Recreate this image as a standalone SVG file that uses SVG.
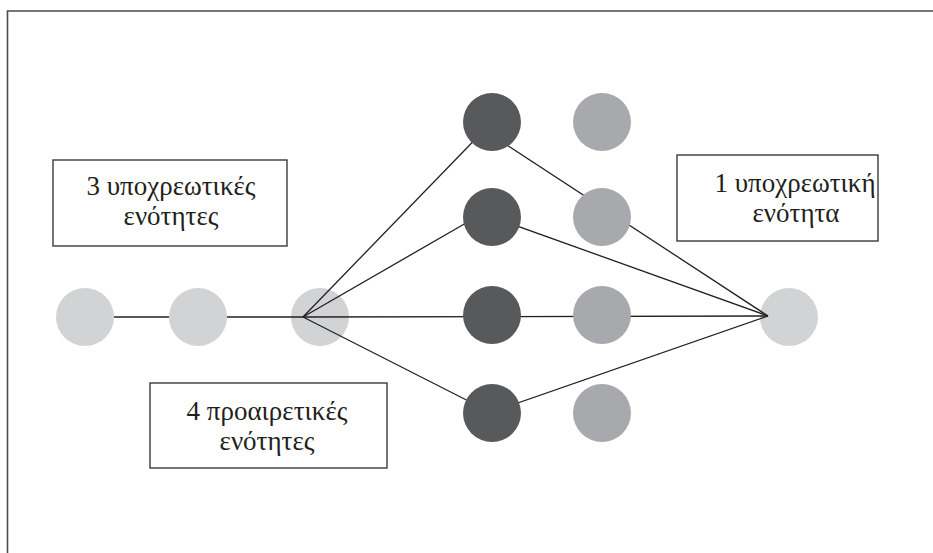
<svg xmlns="http://www.w3.org/2000/svg" width="933" height="553" viewBox="0 0 933 553">
<style>
.frame{fill:none;stroke:#4a4a4a;stroke-width:1.6}
.box{fill:#fff;stroke:#3a3a3a;stroke-width:1.4}
.lbl{font-family:'Liberation Serif','DejaVu Serif',serif;font-size:27px;fill:#231f20;text-anchor:middle}
.light{fill:#d1d3d4}
.mid{fill:#a7a9ac}
.dark{fill:#58595b}
.conn line{stroke:#231f20;stroke-width:1.3}
</style>
<rect width="933" height="553" fill="#fff"/>
<path class="frame" d="M7.5,560 V11 H940"/>
<g id="box-mandatory3">
<rect class="box" x="53" y="160" width="234" height="86"/>
<text class="lbl" font-family="Liberation Serif, DejaVu Serif, serif" x="171" y="195">3 υποχρεωτικές</text>
<text class="lbl" font-family="Liberation Serif, DejaVu Serif, serif" x="171" y="225">ενότητες</text>
</g>
<g id="box-mandatory1">
<rect class="box" x="677" y="155" width="201" height="86"/>
<text class="lbl" font-family="Liberation Serif, DejaVu Serif, serif" x="795" y="191.5">1 υποχρεωτική</text>
<text class="lbl" font-family="Liberation Serif, DejaVu Serif, serif" x="796" y="221.5">ενότητα</text>
</g>
<g id="box-optional4">
<rect class="box" x="150" y="383" width="237" height="85"/>
<text class="lbl" font-family="Liberation Serif, DejaVu Serif, serif" x="267" y="419.5">4 προαιρετικές</text>
<text class="lbl" font-family="Liberation Serif, DejaVu Serif, serif" x="267" y="449.5">ενότητες</text>
</g>
<g id="m1"><circle class="light" cx="85" cy="317" r="29"/></g>
<g id="m2"><circle class="light" cx="198" cy="317" r="29"/></g>
<g id="m3"><circle class="light" cx="320" cy="317" r="29"/></g>
<g id="final"><circle class="light" cx="789" cy="317" r="29"/></g>
<g id="connectors" class="conn">
<line x1="114" y1="317" x2="169" y2="317"/>
<line x1="227" y1="317" x2="303" y2="317"/>
<line x1="303" y1="317" x2="492" y2="122"/>
<line x1="303" y1="317" x2="466" y2="223"/>
<line x1="303" y1="317" x2="768" y2="316"/>
<line x1="303" y1="317" x2="492" y2="413"/>
<line x1="500" y1="140.5" x2="768" y2="316"/>
<line x1="492" y1="217" x2="768" y2="316"/>
<line x1="492" y1="412" x2="768" y2="316"/>
</g>
<g id="o1"><circle class="dark" cx="492" cy="122" r="29"/></g>
<g id="o2"><circle class="dark" cx="492" cy="217" r="29"/></g>
<g id="o3"><circle class="dark" cx="492" cy="315" r="29"/></g>
<g id="o4"><circle class="dark" cx="492" cy="413" r="29"/></g>
<g id="g1"><circle class="mid" cx="602" cy="122" r="29"/></g>
<g id="g2"><circle class="mid" cx="602" cy="217" r="29"/></g>
<g id="g3"><circle class="mid" cx="602" cy="315" r="29"/></g>
<g id="g4"><circle class="mid" cx="602" cy="413" r="29"/></g>
</svg>
